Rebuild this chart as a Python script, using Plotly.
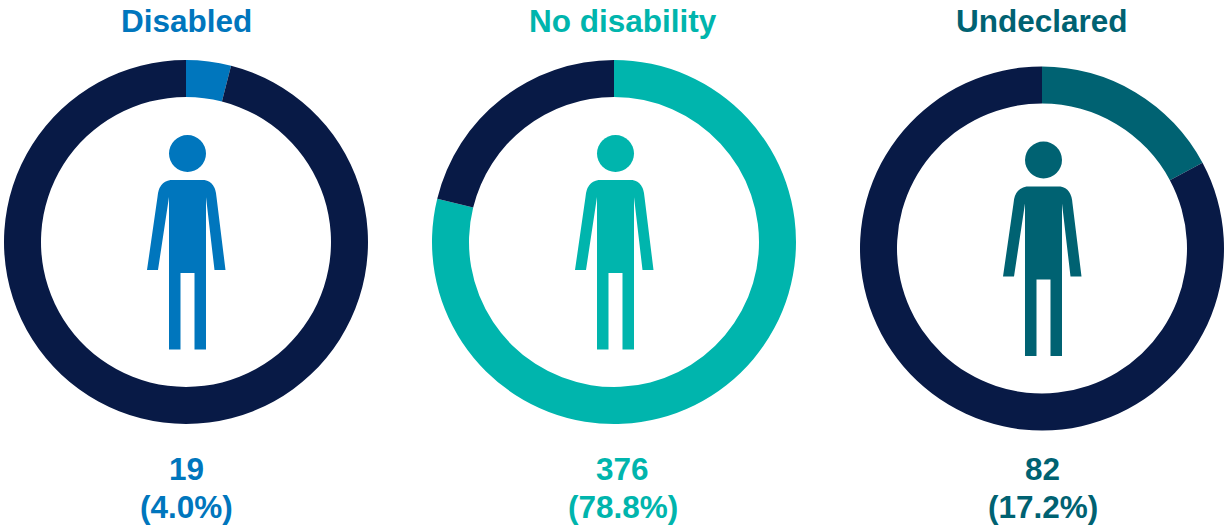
import plotly.graph_objects as go

categories = ["Disabled", "No disability", "Undeclared"]
counts = [19, 376, 82]
percent_labels = ["(4.0%)", "(78.8%)", "(17.2%)"]
total_staff = 477
colors = ["#0076BD", "#00B5AD", "#006272"]
ring_rest = "#081A46"

W, H = 1225, 529
centers = [(186, 242), (614, 242), (1042, 248.5)]
R = 182
HOLE = 145 / 182
title_x = [186, 622.5, 1042]
text_x = [186, 622.5, 1042.5]
title_y = 21
count_y = 469
pct_y = 507
FONT_SIZE = 31.5


def px(x):
    return x / W


def py(y):
    return 1 - y / H


def icon(cx, cy, color):
    # outline relative to ring centre, in pixels
    dy = cy - 242
    ox = cx - 186 + 0.5
    def p(x, y):
        return f"{px(x + ox):.5f},{py(y + dy):.5f}"
    d = (
        f"M{p(170,180)} L{p(204,180)} Q{p(215,182)} {p(216,197)} "
        f"L{p(225,270)} L{p(214,270)} L{p(205.5,197)} L{p(205.5,349.5)} "
        f"L{p(194,349.5)} L{p(194,273)} L{p(180,273)} L{p(180,349.5)} "
        f"L{p(168.5,349.5)} L{p(168.5,197)} L{p(157.5,270)} L{p(146.5,270)} "
        f"L{p(157,197)} Q{p(158,182)} {p(170,180)} Z"
    )
    body = dict(type="path", xref="paper", yref="paper", path=d,
                fillcolor=color, line=dict(width=0), layer="above")
    hx, hy, r = 187 + ox, 153.5 + dy, 18.5
    head = dict(type="circle", xref="paper", yref="paper",
                x0=px(hx - r), x1=px(hx + r), y0=py(hy + r), y1=py(hy - r),
                fillcolor=color, line=dict(width=0), layer="above")
    return [body, head]


fig = go.Figure()
shapes = []
annotations = []
for i, name in enumerate(categories):
    cx, cy = centers[i]
    fig.add_trace(go.Pie(
        values=[counts[i], total_staff - counts[i]],
        labels=[name, "Other"],
        hole=HOLE,
        sort=False,
        direction="clockwise",
        rotation=0,
        textinfo="none",
        showlegend=False,
        marker=dict(colors=[colors[i], ring_rest], line=dict(width=0)),
        domain=dict(x=[px(cx - R), px(cx + R)], y=[py(cy + R), py(cy - R)]),
    ))
    shapes += icon(cx, cy, colors[i])
    for text, x, y in [(name, title_x[i], title_y),
                       (str(counts[i]), text_x[i], count_y),
                       (percent_labels[i], text_x[i], pct_y)]:
        annotations.append(dict(
            text=f"<b>{text}</b>", x=px(x), y=py(y), xref="paper", yref="paper",
            xanchor="center", yanchor="middle", showarrow=False,
            font=dict(family="Liberation Sans", size=FONT_SIZE, color=colors[i]),
        ))

fig.update_layout(
    width=W, height=H, autosize=False,
    margin=dict(l=0, r=0, t=0, b=0),
    paper_bgcolor="white", plot_bgcolor="white",
    shapes=shapes, annotations=annotations,
)
fig.write_html("out.html", config={"displayModeBar": False},
               post_script="document.body.style.margin='0';")
